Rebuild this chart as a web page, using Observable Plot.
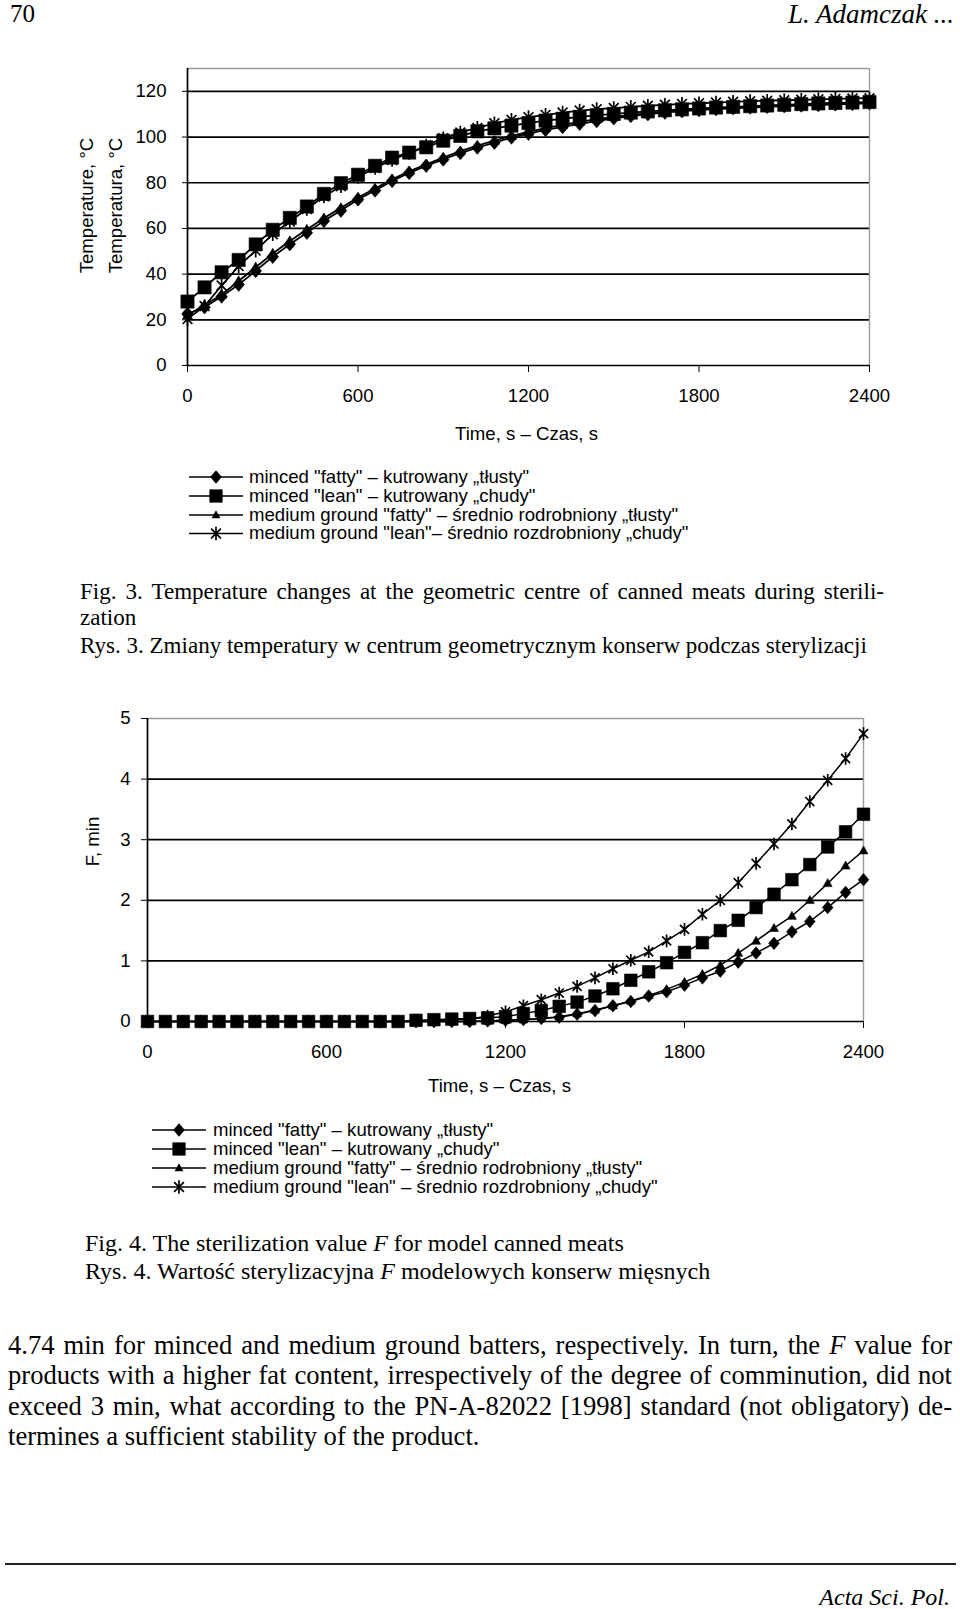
<!DOCTYPE html>
<html><head><meta charset="utf-8">
<script src="https://cdn.jsdelivr.net/npm/d3@7"></script>
<script src="https://cdn.jsdelivr.net/npm/@observablehq/plot@0.6"></script>
<style>
body{margin:0;background:#fff;}
#page{position:relative;width:960px;height:1609px;overflow:hidden;background:#fff;color:#000;}
.t{position:absolute;white-space:nowrap;color:#000;}
.serif{font-family:"Liberation Serif","Times New Roman",serif;}
.sans{font-family:"Liberation Sans",Arial,sans-serif;}
.just{text-align:justify;text-align-last:justify;white-space:normal;}
.chart{position:absolute;left:0;}
</style></head>
<body><div id="page"></div>
<script>
// ---------- data ----------
const time = [0,60,120,180,240,300,360,420,480,540,600,660,720,780,840,900,960,1020,1080,1140,1200,1260,1320,1380,1440,1500,1560,1620,1680,1740,1800,1860,1920,1980,2040,2100,2160,2220,2280,2340,2400];

const seriesNamesTop = [
  'minced "fatty" – kutrowany „tłusty"',
  'minced "lean" – kutrowany „chudy"',
  'medium ground "fatty" – średnio rodrobniony „tłusty"',
  'medium ground "lean"– średnio rozdrobniony „chudy"'
];
const seriesNamesBottom = [
  'minced "fatty" – kutrowany „tłusty"',
  'minced "lean" – kutrowany „chudy"',
  'medium ground "fatty" – średnio rodrobniony „tłusty"',
  'medium ground "lean" – średnio rozdrobniony „chudy"'
];

// Fig. 3 – temperature, °C
const tempMincedFatty = [22.6,25.5,30.2,35.4,41.4,47.6,53.1,58.1,63.3,67.8,72.7,76.6,80.8,84.3,87.4,90.2,93,95.4,97.5,99.8,101.5,103.1,104.4,105.8,107,108.2,109.2,110,110.7,111.3,111.8,112.2,112.6,112.9,113.2,113.5,113.8,114,114.3,114.5,114.8];
const tempMincedLean = [28,34.2,40.8,46.2,53,59.4,64.6,69.6,75.1,79.8,83.5,87.4,91,93.2,95.5,98.4,100.5,102.5,103.8,105,106.1,107.2,108,108.8,109.5,110.1,110.7,111.2,111.7,112.1,112.5,112.9,113.2,113.5,113.8,114.1,114.4,114.7,114.9,115.1,115.3];
const tempMediumFatty = [22,26.5,31,37,43,49,54.5,59.5,64.5,69,73.5,77.5,81.5,85,88,91,93.8,96.2,98.4,100.5,102.3,103.9,105.3,106.6,107.8,108.8,109.7,110.5,111.1,111.7,112.2,112.6,113,113.3,113.6,113.9,114.2,114.4,114.7,114.9,115.1];
const tempMediumLean = [20.3,26,35,43.5,50.3,57.5,63,68.5,74,78.5,82.5,86.5,90,93,96.3,99.5,102,104,106,107.5,108.7,109.7,110.7,111.6,112.2,112.7,113.2,113.7,114.1,114.5,114.8,115.1,115.4,115.7,115.9,116.1,116.3,116.5,116.7,116.9,117];

// Fig. 4 – F value, min
const fMincedFatty = [0,0,0,0,0,0,0,0,0,0,0,0,0,0,0,0,0,0,0,0.01,0.02,0.03,0.05,0.07,0.12,0.18,0.26,0.33,0.42,0.49,0.6,0.72,0.83,0.98,1.13,1.29,1.48,1.65,1.88,2.13,2.34];
const fMincedLean = [0,0,0,0,0,0,0,0,0,0,0,0,0,0,0,0.02,0.03,0.04,0.05,0.06,0.08,0.13,0.18,0.25,0.32,0.42,0.54,0.68,0.82,0.97,1.14,1.3,1.5,1.67,1.88,2.1,2.34,2.59,2.88,3.13,3.42];
const fMediumFatty = [0,0,0,0,0,0,0,0,0,0,0,0,0,0,0,0,0,0,0,0.01,0.02,0.03,0.05,0.08,0.13,0.19,0.26,0.34,0.43,0.53,0.65,0.78,0.93,1.13,1.33,1.54,1.74,2.0,2.28,2.57,2.82];
const fMediumLean = [0,0,0,0,0,0,0,0,0,0,0,0,0,0,0,0,0.01,0.03,0.04,0.09,0.16,0.26,0.36,0.47,0.58,0.72,0.87,1.01,1.15,1.33,1.52,1.77,2.0,2.29,2.61,2.93,3.26,3.63,3.98,4.34,4.75];

const xTicks = [0,600,1200,1800,2400];
const tempTicks = [0,20,40,60,80,100,120];
const tempGrid = [20,40,60,80,100,120];
const fTicks = [0,1,2,3,4,5];
const fGrid = [1,2,3,4];

const xLabel = "Time, s – Czas, s";
const yLabelTemp1 = "Temperature, °C";
const yLabelTemp2 = "Temperatura, °C";
const yLabelF = "F, min";

// ---------- symbols (Excel-like markers) ----------
const rad = s => Math.sqrt(s / Math.PI);
const symDiamond = {draw(c, s){const r = rad(s), w = r*0.85; c.moveTo(0,-r); c.lineTo(w,0); c.lineTo(0,r); c.lineTo(-w,0); c.closePath();}};
const symSquare = {draw(c, s){const r = rad(s); c.rect(-r,-r,2*r,2*r);}};
const symTriangle = {draw(c, s){const r = rad(s); c.moveTo(0,-r); c.lineTo(r*0.95,r*0.7); c.lineTo(-r*0.95,r*0.7); c.closePath();}};
const symAsterisk = {draw(c, s){const r = rad(s), d = r*0.72; c.moveTo(0,-r); c.lineTo(0,r); c.moveTo(-d,-d); c.lineTo(d,d); c.moveTo(-d,d); c.lineTo(d,-d);}};
const symbols = [symDiamond, symSquare, symTriangle, symAsterisk];
const strokeOnly = [false, false, false, true];

const SANS = 18.6;
const page = document.getElementById("page");

function addText(html, o) {
  const d = document.createElement("div");
  d.className = "t " + (o.cls || "serif") + (o.justify ? " just" : "");
  d.innerHTML = html;
  d.style.fontSize = o.size + "px";
  d.style.lineHeight = o.lh + "px";
  d.style.top = (o.cy - o.lh / 2) + "px";
  if (o.left != null) d.style.left = o.left + "px";
  if (o.right != null) d.style.right = o.right + "px";
  if (o.width != null) d.style.width = o.width + "px";
  if (o.italic) d.style.fontStyle = "italic";
  page.appendChild(d);
  return d;
}

function rowsOf(arrs) {
  return arrs.flatMap((arr, s) => arr.map((v, i) => ({t: time[i], v, s})));
}

function chart(o) {
  const rows = rowsOf(o.series);
  const order = [3, 2, 0, 1];
  const marks = [
    Plot.ruleY(o.grid, {stroke: "#000", strokeWidth: 1.7}),
    Plot.ruleY([o.yMax], {stroke: "#9a9a9a", strokeWidth: 1.4}),
    Plot.ruleX([2400], {stroke: "#9a9a9a", strokeWidth: 1.4}),
    Plot.ruleX([0], {stroke: "#000", strokeWidth: 1.7}),
    Plot.ruleY([0], {stroke: "#000", strokeWidth: 1.7}),
    Plot.line(rows, {x: "t", y: "v", z: "s", stroke: "#000", strokeWidth: o.lw})
  ];
  for (const k of order) {
    const sub = rows.filter(d => d.s === k);
    if (strokeOnly[k]) marks.push(Plot.dot(sub, {x: "t", y: "v", symbol: symbols[k], r: o.r[k], fill: "none", stroke: "#000", strokeWidth: 1.7}));
    else marks.push(Plot.dot(sub, {x: "t", y: "v", symbol: symbols[k], r: o.r[k], fill: "#000", stroke: "#000", strokeWidth: 0.6}));
  }
  for (const L of o.labels) {
    marks.push(Plot.text([L.text], {text: d => d, frameAnchor: L.anchor, textAnchor: "middle", lineAnchor: "middle", dx: L.dx, dy: L.dy, rotate: L.rotate || 0, fontSize: SANS}));
  }
  const svg = Plot.plot({
    width: 960, height: o.height,
    marginTop: o.mt, marginBottom: o.mb, marginLeft: o.ml, marginRight: o.mr,
    style: {fontFamily: "'Liberation Sans', Arial, sans-serif", fontSize: SANS + "px", color: "#000", background: "transparent", overflow: "visible"},
    x: {domain: [0, 2400], ticks: xTicks, tickFormat: d => String(d), tickSize: 7, tickPadding: o.xPad, label: null},
    y: {domain: [0, o.yMax], ticks: o.yTicks, tickFormat: d => String(d), tickSize: o.ySize, tickPadding: o.yPad, label: null},
    marks
  });
  svg.classList.add("chart");
  svg.style.position = "absolute";
  svg.style.left = "0px";
  svg.style.top = o.top + "px";
  page.appendChild(svg);
}

function legend(names, cys, x0, x1, xm, tx, radii) {
  const top = cys[0] - 12, h = cys[cys.length - 1] - top + 12;
  const svg = d3.select(page).append("svg")
    .style("position", "absolute").style("left", "0px").style("top", top + "px")
    .attr("width", x1 + 5).attr("height", h);
  cys.forEach((cy, i) => {
    const y = cy - top;
    svg.append("line").attr("x1", x0).attr("x2", x1).attr("y1", y).attr("y2", y)
      .attr("stroke", "#000").attr("stroke-width", 1.6);
    const p = svg.append("path").attr("d", d3.symbol(symbols[i], Math.PI * radii[i] * radii[i])())
      .attr("transform", `translate(${xm},${y})`);
    if (strokeOnly[i]) p.attr("fill", "none").attr("stroke", "#000").attr("stroke-width", 1.7);
    else p.attr("fill", "#000");
    const d = addText("", {left: tx, cy, size: SANS, lh: 20, cls: "sans"});
    d.textContent = names[i];
  });
}

// ---------- header ----------
addText("70", {left: 10, cy: 14, size: 25, lh: 28});
addText("L. Adamczak ...", {right: 6, cy: 14, size: 27, lh: 28, italic: true});

// ---------- Fig. 3 ----------
chart({
  series: [tempMincedFatty, tempMincedLean, tempMediumFatty, tempMediumLean],
  top: 60, height: 400, mt: 8, mb: 95, ml: 187, mr: 91,
  yMax: 130, yTicks: tempTicks, grid: tempGrid, ySize: 5, yPad: 16, xPad: 16,
  lw: 1.8, r: [6.8, 6.6, 5.2, 6.8],
  labels: [
    {text: yLabelTemp1, anchor: "left", dx: -100, dy: -11.5, rotate: -90},
    {text: yLabelTemp2, anchor: "left", dx: -71, dy: -11.5, rotate: -90},
    {text: xLabel, anchor: "bottom", dx: -2, dy: 69}
  ]
});
legend(seriesNamesTop, [476.5, 495.5, 514.5, 533], 189, 243, 216, 249, [6.8, 6.6, 4.7, 6.8]);

addText("Fig. 3. Temperature changes at the geometric centre of canned meats during sterili-", {left: 80, width: 804, cy: 591, size: 23.05, lh: 27, justify: true});
addText("zation", {left: 80, cy: 617.5, size: 23.05, lh: 27});
addText("Rys. 3. Zmiany temperatury w centrum geometrycznym konserw podczas sterylizacji", {left: 80, cy: 645, size: 23.05, lh: 27});

// ---------- Fig. 4 ----------
chart({
  series: [fMincedFatty, fMincedLean, fMediumFatty, fMediumLean],
  top: 700, height: 400, mt: 18, mb: 79, ml: 147, mr: 97,
  yMax: 5, yTicks: fTicks, grid: fGrid, ySize: 6, yPad: 11, xPad: 16,
  lw: 1.5, r: [6.3, 6.3, 4.7, 6.3],
  labels: [
    {text: yLabelF, anchor: "left", dx: -54, dy: -28.5, rotate: -90},
    {text: xLabel, anchor: "bottom", dx: -6, dy: 65}
  ]
});
legend(seriesNamesBottom, [1130, 1149, 1168, 1187], 152, 206, 179, 213, [6.8, 6.6, 4.7, 6.8]);

addText("Fig. 4. The sterilization value <i>F</i> for model canned meats", {left: 85, cy: 1243, size: 24, lh: 27});
addText("Rys. 4. Wartość sterylizacyjna <i>F</i> modelowych konserw mięsnych", {left: 85, cy: 1271, size: 24, lh: 27});

// ---------- body text ----------
addText("4.74 min for minced and medium ground batters, respectively. In turn, the <i>F</i> value for", {left: 8, width: 944, cy: 1344.5, size: 26.6, lh: 30, justify: true});
addText("products with a higher fat content, irrespectively of the degree of comminution, did not", {left: 8, width: 944, cy: 1375.3, size: 26.6, lh: 30, justify: true});
addText("exceed 3 min, what according to the PN-A-82022 [1998] standard (not obligatory) de-", {left: 8, width: 944, cy: 1406, size: 26.6, lh: 30, justify: true});
addText("termines a sufficient stability of the product.", {left: 8, cy: 1435.8, size: 26.6, lh: 30});

// ---------- footer ----------
const rule = document.createElement("div");
rule.style.cssText = "position:absolute;left:5px;width:951px;top:1563px;height:2px;background:#222;";
page.appendChild(rule);
addText("Acta Sci. Pol.", {right: 10, cy: 1597, size: 24, lh: 28, italic: true});
</script></body></html>
